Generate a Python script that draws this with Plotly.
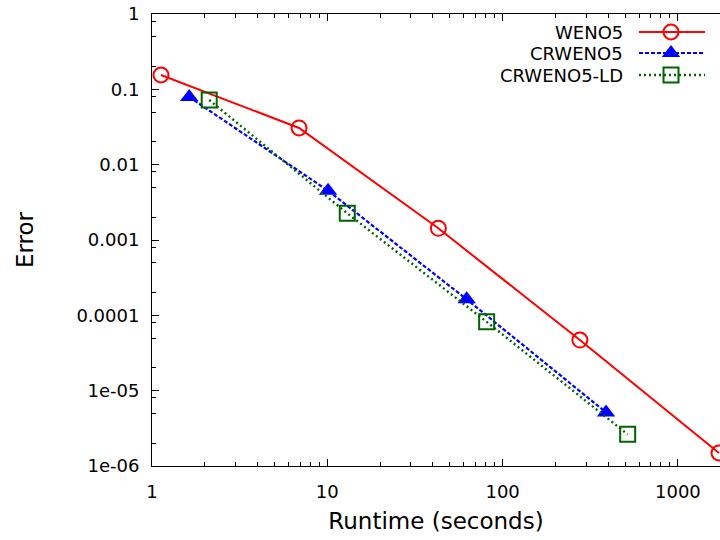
import numpy as np
import plotly.graph_objects as go

# ---- data ----
weno5_t = [1.125, 6.9, 43.0, 276.0, 1715.0]
weno5_e = [0.155, 0.0307, 0.00143, 4.7e-5, 1.49e-6]

crweno5_t = [1.63, 10.1, 62.4, 389.0]
crweno5_e = [0.079, 0.00451, 1.63e-4, 5.15e-6]

crweno5ld_t = [2.12, 13.0, 81.1, 517.0]
crweno5ld_e = [0.0722, 0.00226, 8.2e-5, 2.63e-6]

series_names = ["WENO5", "CRWENO5", "CRWENO5-LD"]

x_tickvals = [1, 10, 100, 1000]
x_ticktext = ["1", "10", "100", "1000"]
y_tickvals = [1, 0.1, 0.01, 0.001, 0.0001, 1e-5, 1e-6]
y_ticktext = ["1", "0.1", "0.01", "0.001", "0.0001", "1e-05", "1e-06"]

x_title = "Runtime (seconds)"
y_title = "Error"

# ---- styles ----
RED = "#ff0000"
BLUE = "#0000ff"
GREEN = "#006400"
FONT = "DejaVu Sans"

x_minor = [m * 10 ** d for d in range(0, 4) for m in range(2, 10)]
y_minor = [m * 10.0 ** d for d in range(-6, 0) for m in (2, 5, 8)]

circle_mk = dict(symbol="circle-open", size=15, color=RED, line=dict(width=2, color=RED))
tri_mk = dict(symbol="triangle-up", size=16, color=BLUE, line=dict(width=0))
sq_mk = dict(symbol="square-open", size=15, color=GREEN, line=dict(width=2, color=GREEN))

fig = go.Figure()

fig.add_trace(go.Scatter(
    x=weno5_t, y=weno5_e, mode="lines+markers", name=series_names[0],
    line=dict(color=RED, width=2), marker=circle_mk, showlegend=False))
fig.add_trace(go.Scatter(
    x=crweno5_t, y=crweno5_e, mode="lines+markers", name=series_names[1],
    line=dict(color=BLUE, width=2.2, dash="4px,2px"), marker=tri_mk, showlegend=False))
fig.add_trace(go.Scatter(
    x=crweno5ld_t, y=crweno5ld_e, mode="lines+markers", name=series_names[2],
    line=dict(color=GREEN, width=2.4, dash="2px,3px"), marker=sq_mk, showlegend=False))

# ---- custom gnuplot-style legend on an overlay pixel-space axis ----
leg_rows = [32, 53, 75]
leg_styles = [
    (RED, None, 2, circle_mk),
    (BLUE, "4px,2px", 2.2, tri_mk),
    (GREEN, "2px,3px", 2.4, sq_mk),
]
for name, yy, (col, dash, w, mk) in zip(series_names, leg_rows, leg_styles):
    fig.add_trace(go.Scatter(
        x=[639, 705], y=[yy, yy], mode="lines", xaxis="x2", yaxis="y2",
        line=dict(color=col, width=w, dash=dash), showlegend=False, hoverinfo="skip"))
    fig.add_trace(go.Scatter(
        x=[671], y=[yy], mode="markers", xaxis="x2", yaxis="y2",
        marker=mk, showlegend=False, hoverinfo="skip"))
    fig.add_annotation(x=625, y=yy, xref="x2", yref="y2", text=name,
                       showarrow=False, xanchor="right", yanchor="middle",
                       font=dict(family=FONT, size=18, color="black"))

L, T, B = 152, 14, 466
xmax = (720 - L) / 175.3

fig.update_layout(
    width=720, height=540,
    margin=dict(l=L, r=0, t=T, b=540 - B),
    paper_bgcolor="white", plot_bgcolor="white",
    font=dict(family=FONT, size=18, color="black"),
    xaxis=dict(
        type="log", range=[0, xmax],
        tickvals=x_tickvals, ticktext=x_ticktext,
        ticks="inside", ticklen=7, tickwidth=1, tickcolor="black",
        showline=True, linecolor="black", linewidth=1, mirror="ticks",
        showgrid=False, zeroline=False,
        minor=dict(tickvals=x_minor, ticks="inside", ticklen=4, tickcolor="black", showgrid=False),
        title=dict(text=x_title, font=dict(family=FONT, size=23), standoff=12),
        tickfont=dict(family=FONT, size=18),
        ticklabelstandoff=9,
    ),
    yaxis=dict(
        type="log", range=[-6, 0],
        tickvals=y_tickvals, ticktext=y_ticktext,
        ticks="inside", ticklen=7, tickwidth=1, tickcolor="black",
        showline=True, linecolor="black", linewidth=1, mirror=False,
        showgrid=False, zeroline=False,
        minor=dict(tickvals=y_minor, ticks="inside", ticklen=4, tickcolor="black", showgrid=False),
        title=dict(text=y_title, font=dict(family=FONT, size=23), standoff=36),
        tickfont=dict(family=FONT, size=18),
        ticklabelstandoff=8,
    ),
    xaxis2=dict(range=[L, 720], overlaying="x", visible=False, fixedrange=True),
    yaxis2=dict(range=[B, T], overlaying="y", visible=False, fixedrange=True),
)

fig.write_html("out.html")
